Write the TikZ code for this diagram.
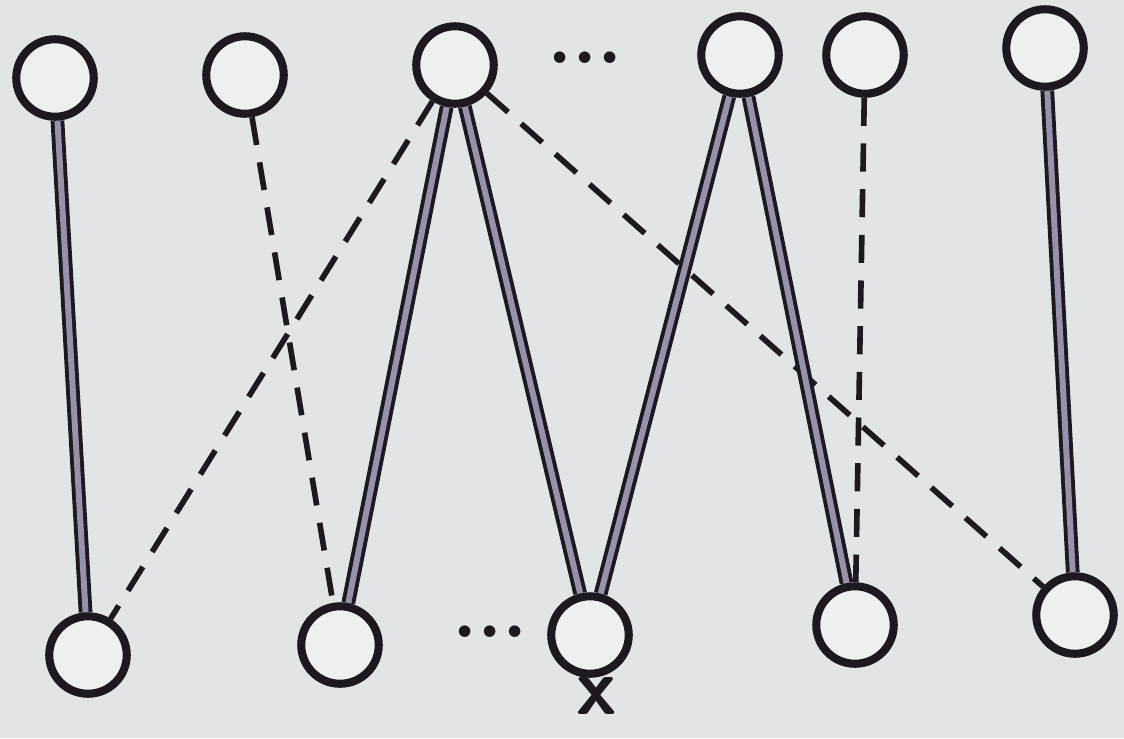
\documentclass[tikz,border=0pt]{standalone}
\usepackage{xcolor}
\usetikzlibrary{positioning,backgrounds}
\definecolor{paper}{RGB}{226,229,229}
\definecolor{ink}{RGB}{30,24,32}
\definecolor{lilac}{RGB}{150,146,172}

\begin{document}
\begin{tikzpicture}[
  x=0.02cm,y=-0.02cm,
  vert/.style={circle,draw=ink,line width=4.6pt,fill=paper!60!white,
               minimum size=1.55cm,inner sep=0pt},
  solidedge/.style={draw=ink,line width=2.2pt,double=lilac,double distance=3.4pt},
  dashedge/.style={draw=ink,line width=3.2pt,dash pattern=on 16pt off 10pt},
  dotsfont/.style={font=\fontsize{46}{46}\selectfont\bfseries,text=ink},
  labfont/.style={font=\fontsize{46}{46}\selectfont\sffamily\bfseries,text=ink},
]
\useasboundingbox (0,0) rectangle (1124,738);

%% --- top row -------------------------------------------------------------
\node[vert] (t1) at (55,78)   {};
\node[vert] (t2) at (245,75)  {};
\node[vert] (t3) at (455,65)  {};
\node[vert] (t4) at (740,55)  {};
\node[vert] (t5) at (865,55)  {};
\node[vert] (t6) at (1045,48) {};
\node[dotsfont] (tdots) at (585,58) {...};

%% --- bottom row ----------------------------------------------------------
\node[vert] (b1) at (88,655)   {};
\node[vert] (b2) at (340,645)  {};
\node[vert] (b3) at (590,635)  {};
\node[vert] (b4) at (855,625)  {};
\node[vert] (b5) at (1075,615) {};
\node[dotsfont] (bdots) at (490,632) {...};
\node[labfont,inner sep=0pt] (xlab) at (597,696) {x};

%% --- edges ---------------------------------------------------------------
\begin{scope}[on background layer]
\fill[paper] (0,0) rectangle (1124,738);
\draw[solidedge] (t1) -- (b1);
\draw[dashedge]  (t2) -- (b2);
\draw[dashedge]  (t3) -- (b1);
\draw[solidedge] (t3) -- (b2);
\draw[solidedge] (t3) -- (b3);
\draw[dashedge]  (t3) -- (b5);
\draw[solidedge] (t4) -- (b3);
\draw[solidedge] (t4) -- (b4);
\draw[dashedge]  (t5) -- (b4);
\draw[solidedge] (t6) -- (b5);
\end{scope}
\end{tikzpicture}
\end{document}
